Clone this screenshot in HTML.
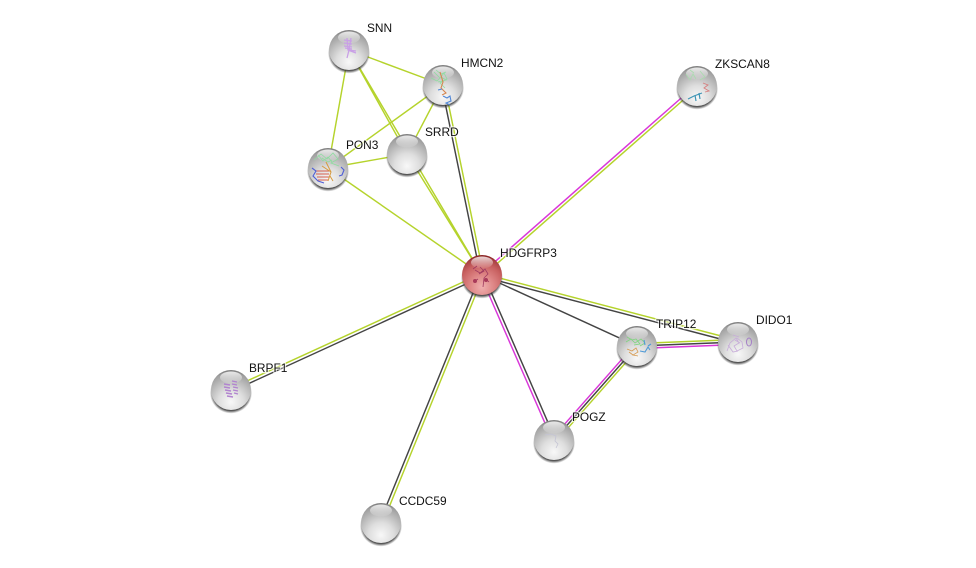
<!DOCTYPE html>
<html><head><meta charset="utf-8"><style>
html,body{margin:0;padding:0;background:#fff;width:976px;height:568px;overflow:hidden}
svg{display:block}
text{font-family:"Liberation Sans",sans-serif;font-size:11.9px;fill:#111}
.h{stroke:#fff;stroke-width:2.5px;stroke-opacity:.7;paint-order:stroke;stroke-linejoin:round}
.y{stroke:#b5d32c;stroke-width:1.45;fill:none}
.k{stroke:#444;stroke-width:1.45;fill:none}
.m{stroke:#d936d9;stroke-width:1.45;fill:none}
.p{fill:none;stroke-width:.8}
</style></head><body>
<svg width="976" height="568" viewBox="0 0 976 568" xmlns="http://www.w3.org/2000/svg">
<defs>
<radialGradient id="g" cx="50%" cy="80%" r="78%">
<stop offset="0" stop-color="#f8f8f8"/><stop offset=".4" stop-color="#dedede"/><stop offset=".72" stop-color="#b8b8b8"/><stop offset=".92" stop-color="#a0a0a0"/><stop offset="1" stop-color="#808080"/>
</radialGradient>
<radialGradient id="r" cx="50%" cy="80%" r="78%">
<stop offset="0" stop-color="#f0b0b0"/><stop offset=".4" stop-color="#dd8484"/><stop offset=".72" stop-color="#c86060"/><stop offset=".92" stop-color="#aa4444"/><stop offset="1" stop-color="#882222"/>
</radialGradient>
<linearGradient id="hl" x1="0" y1="0" x2="0" y2="1">
<stop offset="0" stop-color="#fff" stop-opacity=".8"/><stop offset="1" stop-color="#fff" stop-opacity=".05"/>
</linearGradient>
<radialGradient id="s" cx="50%" cy="50%" r="50%">
<stop offset=".86" stop-color="#333" stop-opacity=".85"/><stop offset="1" stop-color="#444" stop-opacity="0"/>
</radialGradient>
<g id="shade"><ellipse cx="0" cy="3" rx="21" ry="20.5" fill="url(#s)"/></g>
<g id="n"><use href="#shade"/><circle r="20" fill="url(#g)"/><ellipse cx="0" cy="-12.5" rx="11" ry="6" fill="url(#hl)"/></g>
<g id="nr"><use href="#shade"/><circle r="20" fill="url(#r)"/><ellipse cx="0" cy="-12.5" rx="11" ry="6" fill="url(#hl)"/></g>
</defs>

<!-- edges -->
<g>
<line class="y" x1="349" y1="50" x2="443" y2="85"/>
<line class="y" x1="349" y1="50" x2="328" y2="168"/>
<line class="y" x1="349" y1="50" x2="407" y2="154"/>
<line class="y" x1="443" y1="85" x2="328" y2="168"/>
<line class="y" x1="443" y1="85" x2="407" y2="154"/>
<line class="y" x1="407" y1="154" x2="328" y2="168"/>
<line class="y" x1="349" y1="50" x2="482" y2="275"/>
<line class="y" x1="407" y1="154" x2="482" y2="275"/>
<line class="y" x1="328" y1="168" x2="482" y2="275"/>
<line class="k" x1="441.5" y1="85.3" x2="480.5" y2="275.3"/>
<line class="y" x1="444.5" y1="84.7" x2="483.5" y2="274.7"/>
<line class="m" x1="696" y1="85" x2="481" y2="274"/>
<line class="y" x1="698" y1="87" x2="483" y2="276"/>
<line class="y" x1="482.4" y1="273.5" x2="738.4" y2="340.5"/>
<line class="k" x1="481.6" y1="276.5" x2="737.6" y2="343.5"/>
<line class="k" x1="482" y1="275" x2="637" y2="346"/>
<line class="m" x1="480.6" y1="275.6" x2="552.6" y2="440.6"/>
<line class="k" x1="483.4" y1="274.4" x2="555.4" y2="439.4"/>
<line class="y" x1="637" y1="343.5" x2="738" y2="339.5"/>
<line class="k" x1="637" y1="346" x2="738" y2="342"/>
<line class="m" x1="637" y1="348.5" x2="738" y2="344.5"/>
<line class="m" x1="635.1" y1="344.3" x2="552.1" y2="438.3"/>
<line class="k" x1="637" y1="346" x2="554" y2="440"/>
<line class="y" x1="638.9" y1="347.7" x2="555.9" y2="441.7"/>
<line class="y" x1="481.4" y1="273.6" x2="230.4" y2="388.6"/>
<line class="k" x1="482.6" y1="276.4" x2="231.6" y2="391.4"/>
<line class="k" x1="480.6" y1="274.4" x2="379.6" y2="522.4"/>
<line class="y" x1="483.4" y1="275.6" x2="382.4" y2="523.6"/>
</g>

<!-- nodes -->
<use href="#n" x="349" y="50"/>
<path d="M347 38l1 12 8 3M351 38l-2 12-2 8M344 40l8 1M344 43l8 1M344 46l8 1M345 48l7 1M349 50l7 1" stroke="#c9a0e6" stroke-width="1.3" fill="none"/>
<use href="#n" x="443" y="85"/>
<path class="p" d="M434 72l6 6 4-5 3 6-7 4 5 5M431 78l6 3 4-4 5 3-8 2M436 70l5 4 5-2" stroke="#8fdca0" stroke-width="1"/>
<path d="M440 72l3 10-2 6 5 5-4 2" stroke="#d6864f" stroke-width="1.1" fill="none"/>
<path d="M443 96l4 2 3-2 1 5-5 2 4 2M438 90l4-1" stroke="#4f86d6" stroke-width="1.1" fill="none"/>
<use href="#n" x="407" y="154"/>
<use href="#n" x="328" y="168"/>
<path class="p" d="M314 160l7-6 6 5 6-6 5 6-7 4 8 3M318 155l5 6 5-4 4 5M322 158l6 4 4-2" stroke="#8fdca0" stroke-width="1"/>
<path d="M316 171h13M316 174h13M317 177h12M318 180h10" stroke="#d65f4f" stroke-width="1" fill="none"/>
<path d="M326 162l5 10-3 9M322 166l9 6M330 176l3 5" stroke="#d69a3f" stroke-width="1" fill="none"/>
<path d="M341 167l3 3-2 5-3 1M312 168l4 3-3 5 5 5 6 2" stroke="#4f5fd6" stroke-width="1.1" fill="none"/>
<use href="#n" x="697" y="86"/>
<path class="p" d="M686 74l4 6 3-6 3 5M700 71l5 6-5 3M690 70l4 3" stroke="#a9dcae"/>
<path d="M703 83l5 2-4 3 5 3-4 1" stroke="#d67f7f" stroke-width=".9" fill="none"/>
<path d="M688 99l6-3 8-3M695 95l1 6M699 93l1 6" stroke="#3f95b5" stroke-width="1.2" fill="none"/>
<use href="#nr" x="482" y="275"/>
<path class="p" d="M475 270l5 3 5-4 3 5-4 4-1 9M478 279l-3 2M487 280l2 2M473 269l4-3M480 267l4 4-5 3" stroke="#a03a60"/>
<circle cx="475" cy="281" r="2" fill="#a83a5a"/><circle cx="486" cy="280" r="2" fill="#a83a5a"/>
<use href="#n" x="637" y="346"/>
<path class="p" d="M626 342l5-3 4 4 6-4 4 4-5 3M627 337l5 3 4-1 4 5-6 1" stroke="#7fd67f" stroke-width="1"/>
<path class="p" d="M627 349l5 2 4-3 2 4-5 3 5 1M629 352l4 3" stroke="#d69a4f" stroke-width="1"/>
<path d="M640 351l5 1 3-5 2 3M644 340l1 5M648 346l3-2" stroke="#4f9ad6" stroke-width="1.1" fill="none"/>
<use href="#n" x="738" y="342"/>
<path class="p" d="M727 351l3-8 6-5 3 5-5 3 3 5 6-3-1-6-5-4M733 335l6 2M728 345l5 7 5-1M735 340l5 3" stroke="#c7acd9"/>
<ellipse cx="749" cy="342" rx="2.5" ry="4" fill="none" stroke="#a57fc7" stroke-width="1"/>
<use href="#n" x="554" y="440"/>
<path class="p" d="M545 435l6-1 5 2-1 5 3 3-2 4" stroke="#c4c4d4"/>
<use href="#n" x="231" y="390"/>
<path d="M224 384l6 1M224 387l6 1M225 390l6 1M226 393l6 1M227 396l6 1M232 381l5 1M232 384l5 1M233 387l5 1M233 390l5 1M234 393l4 1" stroke="#b184cf" stroke-width="1.4" fill="none"/>
<use href="#n" x="381" y="523"/>

<!-- labels -->
<text class="h" x="367" y="32">SNN</text>
<text class="h" x="461" y="67">HMCN2</text>
<text class="h" x="425" y="136">SRRD</text>
<text class="h" x="346" y="149">PON3</text>
<text class="h" x="715" y="68">ZKSCAN8</text>
<text class="h" x="500" y="257">HDGFRP3</text>
<text class="h" x="656" y="328">TRIP12</text>
<text class="h" x="756" y="324">DIDO1</text>
<text class="h" x="572" y="421">POGZ</text>
<text class="h" x="249" y="372">BRPF1</text>
<text class="h" x="399" y="505">CCDC59</text>
</svg>
</body></html>
